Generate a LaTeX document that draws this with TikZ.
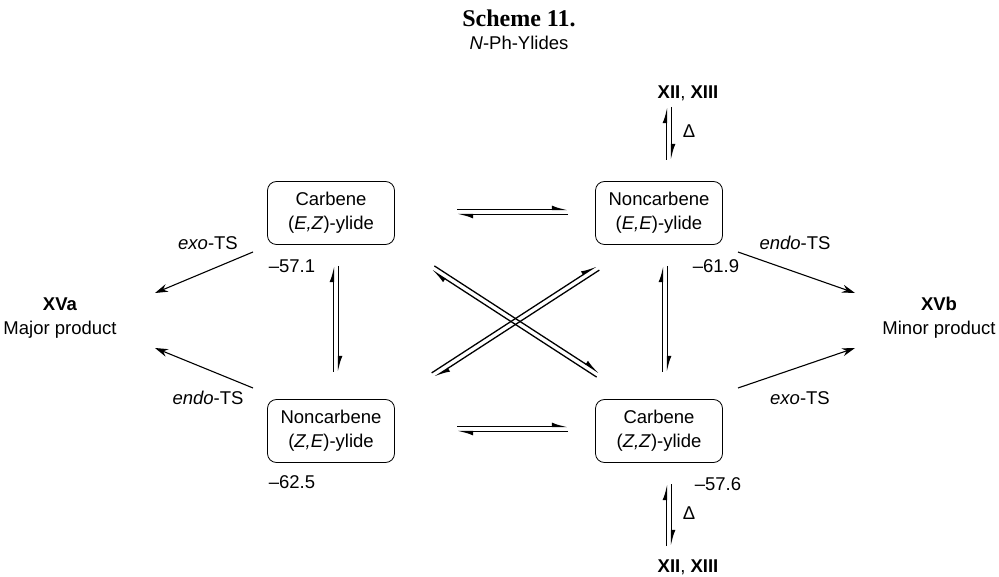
\documentclass[tikz,border=0pt]{standalone}
\usepackage{fontspec}
\setmainfont{Liberation Serif}
\setsansfont{Liberation Sans}
\usetikzlibrary{arrows.meta,calc}

\newcommand{\lab}{\fontsize{18.5}{24}\selectfont}
% equilibrium: the line towards #2 lies on the left of #1 -> #2
\newcommand{\equil}[2]{%
  \draw[harp] ($(#1)!2.5pt!90:(#2)$) -- ($(#2)!2.5pt!-90:(#1)$);
  \draw[harp] ($(#2)!2.5pt!90:(#1)$) -- ($(#1)!2.5pt!-90:(#2)$);}

\tikzset{
  ylide/.style={draw, thick, rounded corners=9pt, minimum width=127pt,
    minimum height=63pt, align=center, inner sep=0pt, font=\sffamily\lab},
  harp/.style={line width=1.3pt, -{Latex[harpoon,length=13pt,width=8pt]}},
  react/.style={line width=1.1pt, -{Stealth[length=13pt,width=8pt]}},
  txt/.style={font=\sffamily\lab, align=center, inner sep=1pt}
}

\begin{document}
\begin{tikzpicture}[x=1pt,y=-1pt]
\useasboundingbox (0,0) rectangle (999,577);
% title
\node (title) at (519,18) {\fontsize{24}{28}\selectfont\bfseries Scheme 11.};
\node[txt] (sub) at (519,43) {\textit{N}-Ph-Ylides};
% the four ylides
\node[ylide] (ez) at (331,213) {Carbene\\(\textit{E,Z})-ylide};
\node[ylide] (ee) at (659,213) {Noncarbene\\(\textit{E,E})-ylide};
\node[ylide] (ze) at (331,431) {Noncarbene\\(\textit{Z,E})-ylide};
\node[ylide] (zz) at (659,431) {Carbene\\(\textit{Z,Z})-ylide};
% energies
\node[txt] (gez) at (292,266) {\textendash57.1};
\node[txt] (gee) at (716,266) {\textendash61.9};
\node[txt] (gze) at (292,482) {\textendash62.5};
\node[txt] (gzz) at (718,484) {\textendash57.6};
% products
\node[txt] (xva) at (60,318) {\textbf{XVa}\\Major product};
\node[txt] (xvb) at (939,318) {\textbf{XVb}\\Minor product};
\node[txt] (xtop) at (688,93) {\textbf{XII}, \textbf{XIII}};
\node[txt] (xbot) at (688,567) {\textbf{XII}, \textbf{XIII}};
% ends of the arrows
\coordinate (h1a) at (457,212); \coordinate (h1b) at (568,212);
\coordinate (h2a) at (457,429); \coordinate (h2b) at (568,429);
\coordinate (v1a) at (336,372); \coordinate (v1b) at (336,266);
\coordinate (v2a) at (665,372); \coordinate (v2b) at (665,266);
\coordinate (v3a) at (669,160); \coordinate (v3b) at (669,107);
\coordinate (v4a) at (669,546); \coordinate (v4b) at (669,484);
\coordinate (d1a) at (598,375); \coordinate (d1b) at (433,268);
\coordinate (d2a) at (433,375); \coordinate (d2b) at (598,268);
\coordinate (pa1) at (253,252); \coordinate (pa2) at (253,388);
\coordinate (pb1) at (738,252); \coordinate (pb2) at (738,388);
\coordinate (qa1) at (155,293); \coordinate (qa2) at (155,348);
\coordinate (qb1) at (855,293); \coordinate (qb2) at (855,348);
% equilibria
\equil{h1a}{h1b}
\equil{h2a}{h2b}
\equil{v1a}{v1b}
\equil{v2a}{v2b}
\equil{v3a}{v3b}
\equil{v4a}{v4b}
\equil{d1a}{d1b}
\equil{d2a}{d2b}
\node[txt] (dtop) at (689,131) {Δ};
\node[txt] (dbot) at (689,513) {Δ};
% to the products
\draw[react] (pa1) -- (qa1);
\draw[react] (pa2) -- (qa2);
\draw[react] (pb1) -- (qb1);
\draw[react] (pb2) -- (qb2);
\node[txt] (ts1) at (208,243) {\textit{exo}-TS};
\node[txt] (ts2) at (208,398) {\textit{endo}-TS};
\node[txt] (ts3) at (795,243) {\textit{endo}-TS};
\node[txt] (ts4) at (800,398) {\textit{exo}-TS};
\end{tikzpicture}
\end{document}
